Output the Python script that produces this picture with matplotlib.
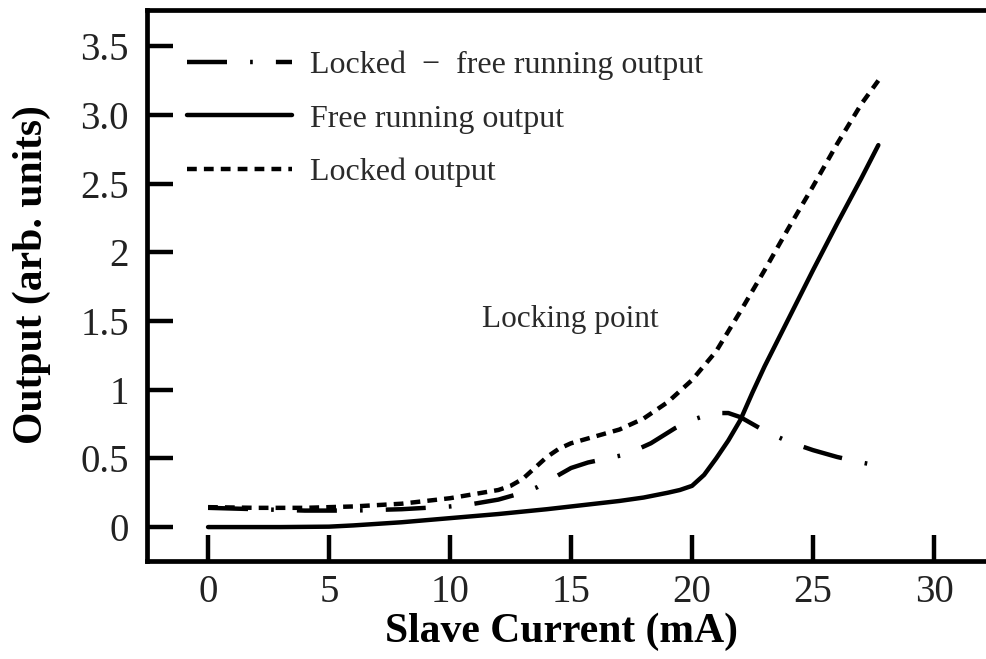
import matplotlib
matplotlib.use("Agg")
import matplotlib.pyplot as plt

# ---- data ----
x_free = [0, 3, 5, 6, 8, 10, 12, 14, 16, 17, 18, 19, 19.5, 20, 20.5, 21, 21.5, 22, 22.5, 23, 24, 25, 26, 27, 27.7]
y_free = [0, 0, 0.003, 0.012, 0.035, 0.065, 0.095, 0.13, 0.17, 0.19, 0.215, 0.25, 0.27, 0.3, 0.38, 0.5, 0.63, 0.78, 0.98, 1.17, 1.52, 1.87, 2.21, 2.54, 2.78]

x_locked = [0, 2, 4, 6, 8, 10, 11, 12, 12.5, 13, 13.5, 14, 14.5, 15, 16, 17, 18, 19, 20, 21, 22, 23, 24, 25, 26, 27, 27.7]
y_locked = [0.145, 0.14, 0.14, 0.15, 0.17, 0.21, 0.24, 0.27, 0.3, 0.35, 0.43, 0.51, 0.57, 0.61, 0.66, 0.71, 0.79, 0.91, 1.07, 1.28, 1.57, 1.87, 2.18, 2.48, 2.79, 3.08, 3.25]

x_diff = [0, 2, 4, 6, 8, 10, 11, 12, 13, 13.6, 14.5, 15, 15.7, 16.5, 17.3, 18.3, 19.3, 20, 20.9, 21.5, 22, 23, 24, 25, 26, 27, 27.3]
y_diff = [0.14, 0.13, 0.12, 0.12, 0.13, 0.15, 0.17, 0.2, 0.25, 0.29, 0.38, 0.43, 0.47, 0.5, 0.53, 0.61, 0.72, 0.78, 0.83, 0.83, 0.8, 0.7, 0.62, 0.56, 0.51, 0.47, 0.46]

x_ticks = [0, 5, 10, 15, 20, 25, 30]
y_ticks = [0, 0.5, 1, 1.5, 2, 2.5, 3.0, 3.5]
y_ticklabels = ['0', '0.5', '1', '1.5', '2', '2.5', '3.0', '3.5']

labels = ['Locked  \u2212  free running output', 'Free running output', 'Locked output']

plt.rcParams['font.family'] = ['Liberation Serif', 'DejaVu Serif']

fig = plt.figure(figsize=(9.87, 6.59), dpi=100)
ax = fig.add_axes([0.149, 0.1487, 0.851, 0.836])

lw = 3.2
l1, = ax.plot(x_diff, y_diff, color='black', lw=lw, linestyle=(0, (9.0, 5.2, 0.6, 5.2)), solid_joinstyle='round')
l2, = ax.plot(x_free, y_free, color='black', lw=lw, solid_capstyle='round', solid_joinstyle='round')
l3, = ax.plot(x_locked, y_locked, color='black', lw=lw, linestyle=(0, (2.2, 1.6)))

ax.set_xlim(-2.52, 32.19)
ax.set_ylim(-0.247, 3.763)

ax.set_xticks(x_ticks)
ax.set_yticks(y_ticks)
ax.set_yticklabels(y_ticklabels)

ax.tick_params(axis='both', direction='in', length=19, width=3.2, labelsize=28, colors='black', labelcolor='#222222')
ax.tick_params(axis='y', pad=13)
ax.tick_params(axis='x', pad=9)

for side in ['left', 'bottom', 'top']:
    ax.spines[side].set_linewidth(3.4)
ax.spines['right'].set_visible(False)

ax.set_xlabel('Slave Current (mA)', fontsize=30, fontweight='bold')
ax.set_ylabel('Output (arb. units)', fontsize=30, fontweight='bold')
ax.xaxis.set_label_coords(0.493, -0.093)
ax.yaxis.set_label_coords(-0.114, 0.52)

leg = ax.legend([l1, l2, l3], labels, loc='upper left', bbox_to_anchor=(0.0476, 0.926),
                frameon=False, fontsize=23, handlelength=3.3, handletextpad=0.55,
                labelspacing=0.75, borderpad=0, borderaxespad=0)
for t in leg.get_texts():
    t.set_color('#2a2a2a')

ax.text(11.32, 1.51, 'Locking point', fontsize=22.5, color='#2a2a2a', ha='left', va='center')

fig.savefig('out.png', dpi=100)
